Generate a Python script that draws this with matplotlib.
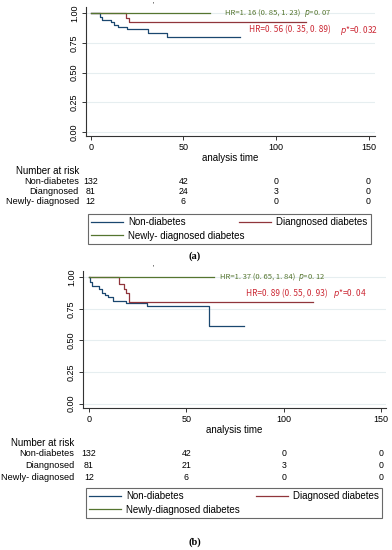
import matplotlib
matplotlib.use("Agg")
import matplotlib.pyplot as plt
import matplotlib.transforms as mtransforms

# ---- data ----
a_non_t = [0, 5, 6, 11, 12.8, 15, 19.4, 31, 41, 80.7]
a_non_s = [1.0, 0.966, 0.943, 0.923, 0.90, 0.884, 0.864, 0.833, 0.80, 0.80]
a_dia_t = [0, 19, 20.7, 116]
a_dia_s = [1.0, 0.963, 0.929, 0.929]
a_new_t = [0, 64.5]
a_new_s = [1.0, 1.0]

b_non_t = [0, 0.6, 1.4, 5.3, 6.5, 8.5, 9.9, 12.5, 19.3, 29.6, 61.5, 79.6]
b_non_s = [1.0, 0.965, 0.93, 0.905, 0.877, 0.858, 0.84, 0.814, 0.793, 0.772, 0.614, 0.614]
b_dia_t = [0, 15.6, 18.1, 19.3, 20.5, 115]
b_dia_s = [1.0, 0.95, 0.91, 0.877, 0.806, 0.806]
b_new_t = [0, 64]
b_new_s = [1.0, 1.0]

risk_times = [0, 50, 100, 150]
risk_labels = ["Non-diabetes", "Diangnosed", "Newly- diagnosed"]
a_risk = [[132, 42, 0, 0], [81, 24, 3, 0], [12, 6, 0, 0]]
b_risk = [[132, 42, 0, 0], [81, 21, 3, 0], [12, 6, 0, 0]]

a_legend = ["Non-diabetes", "Diangnosed diabetes", "Newly- diagnosed diabetes"]
b_legend = ["Non-diabetes", "Diagnosed diabetes", "Newly-diagnosed diabetes"]

a_hr = ["HR=1. 16 (0. 85, 1. 23)", "HR=0. 56 (0. 35, 0. 89)"]
a_p = [r"$p$=0. 07", r"$p$*=0. 032"]
b_hr = ["HR=1. 37 (0. 65, 1. 84)", "HR=0. 89 (0. 55, 0. 93)"]
b_p = [r"$p$=0. 12", r"$p$*=0. 04"]

W, H = 392, 550
BLUE = "#1a476f"
RED = "#90353b"
GREEN = "#55752f"
GRID = "#e6eef0"

plt.rcParams['font.family'] = ['Liberation Sans', 'DejaVu Sans']
plt.rcParams['mathtext.fontset'] = 'dejavusans'

fig = plt.figure(figsize=(W / 100, H / 100), dpi=100)


def fx(px):
    return px / W


def fy(py):
    return 1 - py / H


def panel(box, xlim, curves, hr, pv, hr_pos, p_pos, risk, rows_y, lab_right,
          legend_labels, leg_box, caption, cap_y, mark_y):
    left, top, right, bottom = box
    ax = fig.add_axes([fx(left), fy(bottom), fx(right) - fx(left), (bottom - top) / H])
    for y in [0, 0.25, 0.5, 0.75, 1.0]:
        ax.axhline(y, color=GRID, lw=0.8, zorder=0)
    lines = []
    for (t, s, c) in curves:
        ln, = ax.step(t, s, where='post', color=c, lw=0.9)
        lines.append(ln)
    ax.set_xlim(*xlim)
    ax.set_ylim(-0.035, 1.05)
    ax.set_xticks(risk_times)
    ax.set_yticks([0, 0.25, 0.5, 0.75, 1.0])
    ax.set_yticklabels(["0.00", "0.25", "0.50", "0.75", "1.00"], rotation=90, va='center')
    ax.tick_params(labelsize=6.5, length=3, width=0.7, color="#333333", pad=2)
    for sp in ['top', 'right']:
        ax.spines[sp].set_visible(False)
    for sp in ['left', 'bottom']:
        ax.spines[sp].set_linewidth(0.8)
        ax.spines[sp].set_color("#333333")
    ax.set_xlabel("analysis time", fontsize=7, labelpad=1)

    # hazard ratio annotations
    for i, (col, fs) in enumerate([(GREEN, 5.5), ("#cc2a36", 6.0)]):
        ax.text(hr_pos[i][0], hr_pos[i][1], hr[i], color=col, fontsize=fs,
                family=['Noto Sans CJK SC', 'DejaVu Sans'], va='center', ha='left')
        ax.text(p_pos[i], hr_pos[i][1], pv[i], color=col, fontsize=fs,
                family=['Noto Sans CJK SC', 'DejaVu Sans'], va='center', ha='left')

    # number at risk table
    tr = mtransforms.blended_transform_factory(ax.transData, fig.transFigure)
    fig.text(fx(lab_right), fy(rows_y[0]), "Number at risk", ha='right', va='center', fontsize=7)
    for r in range(3):
        fig.text(fx(lab_right), fy(rows_y[r + 1]), risk_labels[r], ha='right', va='center', fontsize=6.6)
        for j, tm in enumerate(risk_times):
            ax.text(tm, fy(rows_y[r + 1]), str(risk[r][j]), transform=tr,
                    ha='center', va='center', fontsize=6.3)

    # legend
    l0, t0, r0, b0 = leg_box
    handles = [lines[0], lines[2], lines[1]]
    labels = [legend_labels[0], legend_labels[2], legend_labels[1]]
    leg = fig.legend(handles, labels, ncol=2, loc='lower left',
                     bbox_to_anchor=(fx(l0), fy(b0), fx(r0) - fx(l0), (b0 - t0) / H),
                     mode='expand', borderaxespad=0, fontsize=7, frameon=True,
                     fancybox=False, handlelength=3.3, handletextpad=0.5,
                     labelspacing=0.35, borderpad=0.35, columnspacing=1.0)
    leg.get_frame().set_edgecolor("#444444")
    leg.get_frame().set_linewidth(0.8)

    fig.text(0.497, fy(cap_y), caption, ha='center', va='center', fontsize=7.5,
             family='Liberation Serif', weight='bold')
    fig.text(fx(153), fy(mark_y), "'", ha='center', va='center', fontsize=5)
    return ax


panel((86, 7.4, 375, 136), (-2.5, 153.5),
      [(a_non_t, a_non_s, BLUE), (a_dia_t, a_dia_s, RED), (a_new_t, a_new_s, GREEN)],
      a_hr, a_p, [(72.6, 1.0), (85.6, 0.858)], [115, 134.7],
      a_risk, [171, 181, 192, 202], 79, a_legend, (88, 213, 371, 244), "(a)", 256, 5)

panel((83, 270.9, 386, 408), (-3, 152.5),
      [(b_non_t, b_non_s, BLUE), (b_dia_t, b_dia_s, RED), (b_new_t, b_new_s, GREEN)],
      b_hr, b_p, [(67.2, 0.994), (80.5, 0.868)], [107.5, 125.3],
      b_risk, [443, 454, 466, 478], 74, b_legend, (86, 488, 382, 518), "(b)", 542, 268)

fig.savefig("out.png", dpi=100)
